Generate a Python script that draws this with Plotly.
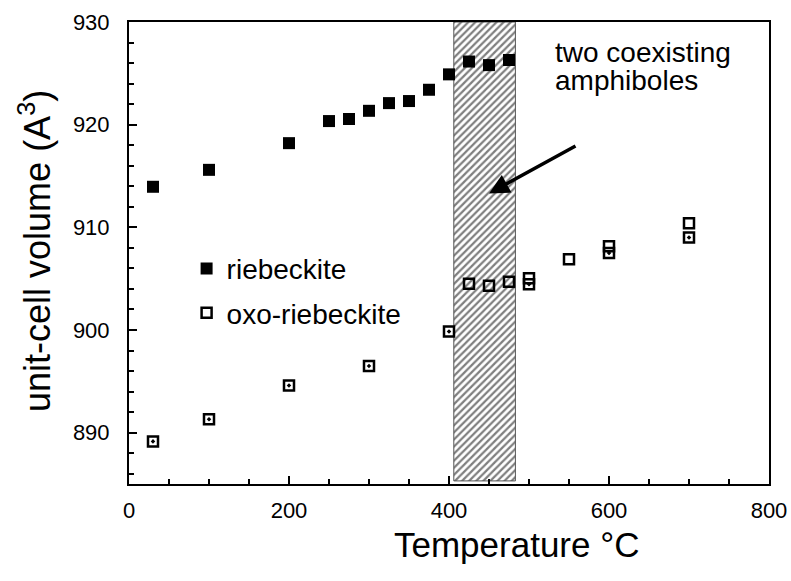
import plotly.graph_objects as go

# riebeckite (filled squares)
rieb_T = [30, 100, 200, 250, 275, 300, 325, 350, 375, 400, 425, 450, 475]
rieb_V = [913.95, 915.6, 918.2, 920.35, 920.55, 921.35, 922.1, 922.3, 923.4, 924.9, 926.15, 925.8, 926.3]

# oxo-riebeckite (open squares)
oxo_T = [425, 450, 475, 500, 550, 600, 700]
oxo_V = [904.5, 904.3, 904.7, 905.05, 906.9, 908.15, 910.4]

# oxo-riebeckite (open squares with centre dot)
oxod_T = [30, 100, 200, 300, 400, 500, 600, 700]
oxod_V = [889.15, 891.3, 894.6, 896.5, 899.85, 904.45, 907.5, 909.0]

# two-phase region
band_T = [406, 483]
band_V = [885.3, 930]

x_ticks = [0, 200, 400, 600, 800]
y_ticks = [890, 900, 910, 920, 930]

FONT = "Liberation Sans, Arial, sans-serif"

fig = go.Figure()

fig.add_trace(go.Scatter(
    x=[band_T[0], band_T[1], band_T[1], band_T[0], band_T[0]],
    y=[band_V[0], band_V[0], band_V[1], band_V[1], band_V[0]],
    mode="lines", fill="toself",
    fillcolor="white",
    fillpattern=dict(shape="/", size=5, solidity=0.45, fgcolor="#000000", bgcolor="white"),
    line=dict(color="#555555", width=1),
    showlegend=False, hoverinfo="skip"))

fig.add_trace(go.Scatter(
    x=rieb_T, y=rieb_V, mode="markers", name="riebeckite", legendgroup="a",
    marker=dict(symbol="square", size=12, color="black", line=dict(width=0))))

fig.add_trace(go.Scatter(
    x=oxo_T, y=oxo_V, mode="markers", name="oxo-riebeckite", legendgroup="b",
    marker=dict(symbol="square-open", size=10, color="black", line=dict(width=2.5, color="black"))))

fig.add_trace(go.Scatter(
    x=oxod_T, y=oxod_V, mode="markers", name="oxo-riebeckite", showlegend=False, legendgroup="b",
    marker=dict(symbol="square-open-dot", size=10, color="black", line=dict(width=2.5, color="black"))))

# arrow
fig.add_annotation(
    x=450, y=913.3, ax=560, ay=918.0, xref="x", yref="y", axref="x", ayref="y",
    text="", showarrow=True, arrowhead=2, arrowsize=1.15, arrowwidth=3.5, arrowcolor="black")

# label lines
fig.add_annotation(
    x=530, y=927.0, xref="x", yref="y", xanchor="left", yanchor="middle",
    text="two coexisting", showarrow=False,
    font=dict(family=FONT, size=28, color="black"))
fig.add_annotation(
    x=530, y=924.3, xref="x", yref="y", xanchor="left", yanchor="middle",
    text="amphiboles", showarrow=False,
    font=dict(family=FONT, size=28, color="black"))

# axis titles as annotations (positioned as in the reference)
fig.add_annotation(
    x=0.606, y=-0.085, xref="paper", yref="paper", xanchor="center", yanchor="top",
    text="Temperature °C", showarrow=False,
    font=dict(family=FONT, size=35, color="black"))
fig.add_annotation(
    x=-0.148, y=0.505, xref="paper", yref="paper", xanchor="center", yanchor="middle",
    text="unit-cell volume (A<sup>3</sup>)", showarrow=False, textangle=-90,
    font=dict(family=FONT, size=36, color="black"))

fig.update_layout(
    width=791, height=581,
    margin=dict(l=129, r=22, t=22, b=97, autoexpand=False),
    paper_bgcolor="white", plot_bgcolor="white",
    font=dict(family=FONT, color="black"),
    legend=dict(x=0.09, y=0.52, xanchor="left", yanchor="top",
                bgcolor="rgba(0,0,0,0)", font=dict(family=FONT, size=28),
                itemsizing="trace", tracegroupgap=5),
    xaxis=dict(range=[0, 800], tickvals=x_ticks, ticktext=[str(v) for v in x_ticks],
               ticks="inside", ticklen=8, tickwidth=2, tickcolor="black",
               minor=dict(dtick=50, ticks="inside", ticklen=5, tickwidth=1.5, tickcolor="black"),
               showline=True, linewidth=2, linecolor="black", mirror=True,
               showgrid=False, zeroline=False, automargin=False,
               ticklabelstandoff=6,
               tickfont=dict(family=FONT, size=22)),
    yaxis=dict(range=[885, 930], tickvals=y_ticks, ticktext=[str(v) for v in y_ticks],
               ticks="inside", ticklen=8, tickwidth=2, tickcolor="black",
               minor=dict(dtick=2, ticks="inside", ticklen=5, tickwidth=1.5, tickcolor="black"),
               showline=True, linewidth=2, linecolor="black", mirror=True,
               showgrid=False, zeroline=False, automargin=False,
               ticklabelstandoff=13,
               tickfont=dict(family=FONT, size=22)),
)

fig.write_html("out.html")
